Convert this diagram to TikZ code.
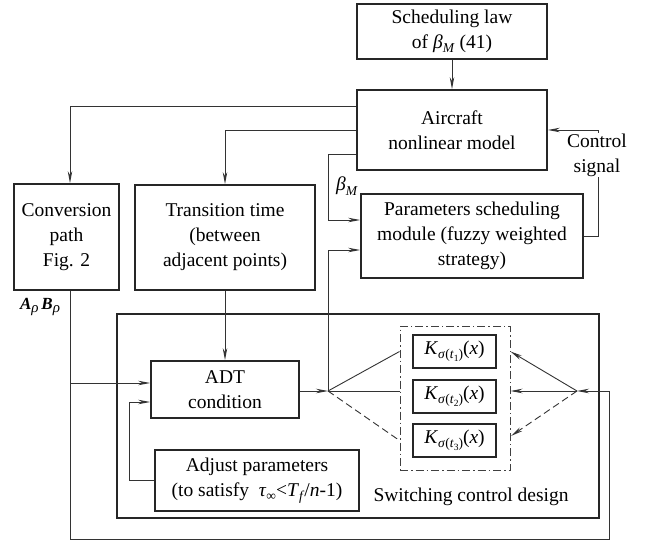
\documentclass[tikz,border=0pt]{standalone}
\usepackage{fontspec}
\setmainfont{Liberation Serif}
\usetikzlibrary{arrows.meta}
\newcommand\lo[1]{\raisebox{-0.22em}{\fontsize{13.5}{13.5}\selectfont #1}}
\newcommand\llo[1]{\raisebox{-0.2em}{\fontsize{9.5}{9.5}\selectfont #1}}
\newcommand\Kt[1]{\textit{K}\lo{\textit{σ}(\textit{t}\llo{#1})}(\textit{x})}
\begin{document}
\begin{tikzpicture}[x=1pt,y=-1pt,
  every node/.style={font=\fontsize{19.5}{25}\selectfont, text=black},
  blk/.style={draw=black!85, line width=1.8pt, inner sep=0pt, align=center},
  con/.style={draw=black!80, line width=0.9pt},
  arr/.style={con, -{Stealth[length=12pt,width=4.5pt]}},
  dsh/.style={dash pattern=on 7pt off 4pt}
]
\fill[white] (0,0) rectangle (648,540);
\useasboundingbox (0,0) rectangle (648,540);

% blocks
\node[blk, minimum width=190pt, minimum height=55pt] (sched) at (452,31.5) {Scheduling law\\of \textit{β}\lo{\textit{M}} (41)};
\node[blk, minimum width=190pt, minimum height=80pt] (air) at (452,130) {Aircraft\\nonlinear model};
\node[blk, minimum width=105pt, minimum height=106pt] (conv) at (66.5,237) {Conversion\\path\\Fig. 2};
\node[blk, minimum width=180pt, minimum height=105pt] (trans) at (225,237.5) {Transition time\\(between\\adjacent points)};
\node[blk, minimum width=222pt, minimum height=84pt] (param) at (472,236) {Parameters scheduling\\module (fuzzy weighted\\strategy)};
\node[blk, minimum width=482pt, minimum height=204pt] (sw) at (358,416) {};
\node[draw=black!75, line width=1pt, dash pattern=on 8pt off 3pt on 1.5pt off 3pt, minimum width=110pt, minimum height=144pt, inner sep=0pt] (dbox) at (455,398) {};
\node[blk, minimum width=83pt, minimum height=33pt] (k1) at (454.5,351.5) {\Kt{1}};
\node[blk, minimum width=83pt, minimum height=33pt] (k2) at (454.5,396.5) {\Kt{2}};
\node[blk, minimum width=83pt, minimum height=33pt] (k3) at (454.5,440.5) {\Kt{3}};
\node[blk, minimum width=148pt, minimum height=57pt] (ADT) at (225,389.5) {ADT\\condition};
\node[blk, minimum width=204pt, minimum height=61pt] (adj) at (257,480.5) {Adjust parameters\\(to satisfy\ \ \textit{τ}\lo{∞}<\textit{T}\lo{\textit{f}}/\textit{n}-1)};
\node (swt) at (471,497) {Switching control design};
\node (ab) at (40,307) {\fontsize{17}{17}\selectfont\textbf{\textit{A}}\raisebox{-0.12em}{\fontsize{15}{15}\selectfont\textit{ρ}}\,\textbf{\textit{B}}\raisebox{-0.12em}{\fontsize{15}{15}\selectfont\textit{ρ}}};
\node (btxt) at (347,186) {\textit{β}\lo{\textit{M}}};

% coordinates
\coordinate (b1) at (328,220);
\coordinate (cR) at (598,0);
\coordinate (J1) at (328,391);
\coordinate (J2) at (577,391);
\coordinate (R3) at (511,436);
\coordinate (BL) at (70,539);
\coordinate (BR) at (609,539);
\coordinate (a1) at (70,383);
\coordinate (a2) at (129,402);

% connectors
\draw[arr] (sched.south) -- (air.north);
\draw[arr] ([yshift=24pt]air.west) -| ([xshift=3.5pt]conv.north);
\draw[arr] (air.west) -| (trans.north);
\draw[arr] ([yshift=-24pt]air.west) -| (b1) -- (b1 -| param.west);
\draw[arr] (param.east) -| (cR |- air.east) -- (air.east);
\node[fill=white, inner sep=1pt, align=center] (ctl) at (597,155) {Control\\signal};
\draw[arr] (trans.south) -- (ADT.north);
\draw[arr] (ADT.east |- J1) -- (J1);
\draw[arr] (J1) |- ([yshift=-14pt]param.west);
\draw[con] (J1) -- (dbox.west |- k1);
\draw[con] (J1) -- (dbox.west |- J1);
\draw[con, dsh] (J1) -- (dbox.west |- k3);
\draw[arr] (J2) -- (dbox.east |- k1);
\draw[arr] (J2) -- (dbox.east |- J2);
\draw[arr, dsh] (J2) -- (R3);
\draw[arr] ([xshift=3.5pt]conv.south) -- (BL) -- (BR) -- (BR |- J2) -- (J2);
\draw[arr] (a1) -- (a1 -| ADT.west);
\draw[arr] (adj.west) -| (a2) -- (a2 -| ADT.west);
\end{tikzpicture}
\end{document}
